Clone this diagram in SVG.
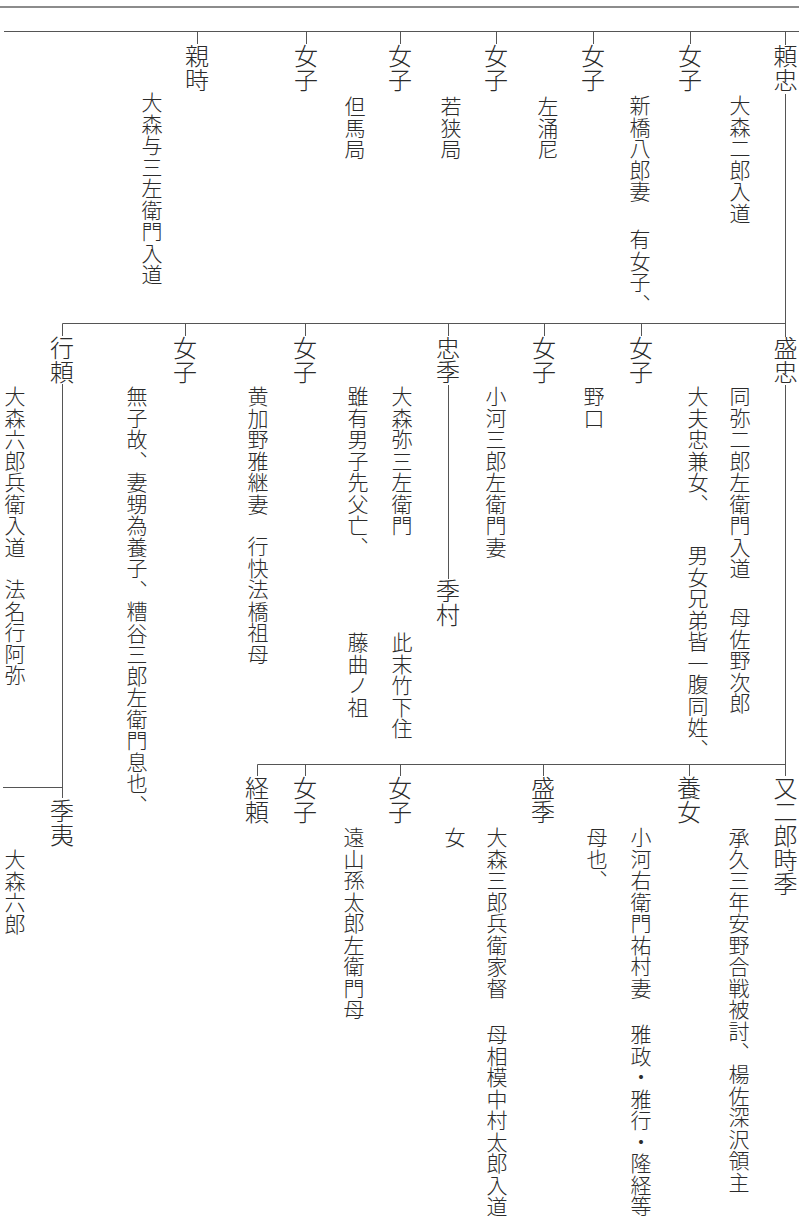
<svg xmlns="http://www.w3.org/2000/svg" width="803" height="1216" viewBox="0 0 803 1216">
<style>
text{font-family:"Noto Sans CJK JP","Noto Sans CJK SC",sans-serif;fill:#2b2b2b;font-weight:300;writing-mode:vertical-rl;text-orientation:upright}
.nm{font-size:24px}
.nt{font-size:21px;letter-spacing:0.5px}
.ln{stroke:#555;stroke-width:1;fill:none}
.rule{stroke:#666;stroke-width:1.3;fill:none}
</style>
<rect width="803" height="1216" fill="#fff"/>
<g id="connectors">
<line class="rule" x1="0" y1="7" x2="799" y2="7"/>
<path class="ln" d="M4 31.5H799"/>
<path class="ln" d="M197.5 31.5V44M306.5 31.5V44M400.5 31.5V44M496.5 31.5V44M593.5 31.5V44M690.5 31.5V44M785.5 31.5V45"/>
<path class="ln" d="M785.5 94V337"/>
<path class="ln" d="M62.5 323.5H785.5"/>
<path class="ln" d="M62.5 323.5V336M185.5 323.5V336M305.5 323.5V336M448.5 323.5V336M544.5 323.5V336M641.5 323.5V336"/>
<path class="ln" d="M785.5 385V776"/>
<path class="ln" d="M257.5 764.5H785.5"/>
<path class="ln" d="M257.5 764.5V776M305.5 764.5V776M400.5 764.5V776M543.5 764.5V776M689.5 764.5V776"/>
<path class="ln" d="M62.5 384V798"/>
<path class="ln" d="M3 787.5H62.5"/>
<path class="ln" d="M448.5 385V579"/>
</g>
<g id="n-yoritada"><text class="nm" x="785.5" y="44">頼忠</text><text class="nt" x="740" y="95">大森二郎入道</text></g>
<g id="n-joshi1"><text class="nm" x="690" y="44">女子</text><text class="nt" x="640" y="95">新橋八郎妻</text><text class="nt" x="640" y="229">有女子、</text></g>
<g id="n-joshi2"><text class="nm" x="593" y="44">女子</text><text class="nt" x="548" y="96">左涌尼</text></g>
<g id="n-joshi3"><text class="nm" x="496" y="44">女子</text><text class="nt" x="451" y="96">若狭局</text></g>
<g id="n-joshi4"><text class="nm" x="400" y="44">女子</text><text class="nt" x="355" y="96">但馬局</text></g>
<g id="n-joshi5"><text class="nm" x="306" y="44">女子</text></g>
<g id="n-chikatoki"><text class="nm" x="197" y="44">親時</text><text class="nt" x="152" y="92">大森与三左衛門入道</text></g>

<g id="n-moritada"><text class="nm" x="785.5" y="336">盛忠</text><text class="nt" x="740" y="386">同弥二郎左衛門入道</text><text class="nt" x="740" y="607">母佐野次郎</text><text class="nt" x="698" y="386">大夫忠兼女、</text><text class="nt" x="698" y="545">男女兄弟皆一腹同姓、</text></g>
<g id="n-joshi6"><text class="nm" x="641" y="336">女子</text><text class="nt" x="594" y="386">野口</text></g>
<g id="n-joshi7"><text class="nm" x="544" y="336">女子</text><text class="nt" x="496" y="386">小河三郎左衛門妻</text></g>
<g id="n-tadasue"><text class="nm" x="448" y="336">忠季</text><text class="nt" x="402" y="386">大森弥三左衛門</text><text class="nt" x="402" y="632">此末竹下住</text><text class="nt" x="358" y="386">雖有男子先父亡、</text><text class="nt" x="358" y="632">藤曲ノ祖</text></g>
<g id="n-suemura"><text class="nm" x="448" y="579">季村</text></g>
<g id="n-joshi8"><text class="nm" x="305" y="336">女子</text><text class="nt" x="258" y="386">黄加野雅継妻</text><text class="nt" x="258" y="536">行快法橋祖母</text></g>
<g id="n-joshi9"><text class="nm" x="185" y="336">女子</text><text class="nt" x="137" y="386">無子故、妻甥為養子、</text><text class="nt" x="137" y="601">糟谷三郎左衛門息也、</text></g>
<g id="n-yukiyori"><text class="nm" x="62" y="336">行頼</text><text class="nt" x="15" y="386">大森六郎兵衛入道</text><text class="nt" x="15" y="579">法名行阿弥</text></g>
<g id="n-sueyasu"><text class="nm" x="62" y="799">季夷</text><text class="nt" x="15" y="849">大森六郎</text></g>

<g id="n-tokisue"><text class="nm" x="785.5" y="776">又二郎時季</text><text class="nt" x="739" y="827">承久三年安野合戦被討、</text><text class="nt" x="739" y="1064">楊佐深沢領主</text></g>
<g id="n-youjo"><text class="nm" x="689" y="776">養女</text><text class="nt" x="641" y="827">小河右衛門祐村妻</text><text class="nt" x="641" y="1024">雅政・雅行・隆経等</text><text class="nt" x="597" y="827">母也、</text></g>
<g id="n-morisue"><text class="nm" x="543" y="776">盛季</text><text class="nt" x="497" y="827">大森三郎兵衛家督</text><text class="nt" x="497" y="1024">母相模中村太郎入道</text><text class="nt" x="455" y="827">女</text></g>
<g id="n-joshi10"><text class="nm" x="400" y="776">女子</text><text class="nt" x="354" y="827">遠山孫太郎左衛門母</text></g>
<g id="n-joshi11"><text class="nm" x="305" y="776">女子</text></g>
<g id="n-tsuneyori"><text class="nm" x="257" y="776">経頼</text></g>
</svg>
